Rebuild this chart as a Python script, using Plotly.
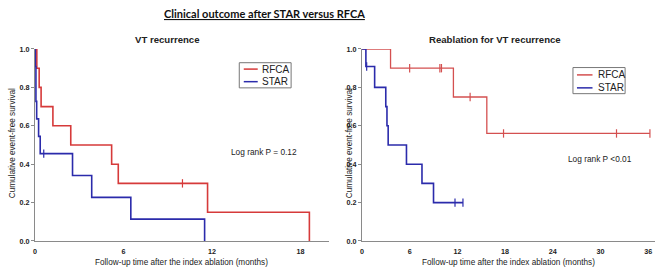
import plotly.graph_objects as go

# ---- data (months, cumulative event-free survival) ----
vt_rfca_t = [0, 0.13, 0.29, 0.42, 1.22, 2.43, 5.2, 5.65, 11.7, 18.6]
vt_rfca_s = [1.0, 0.9, 0.8, 0.7, 0.6, 0.5, 0.4, 0.3, 0.15, 0.0]
vt_rfca_cens_t = [10.0]
vt_rfca_cens_s = [0.3]

vt_star_t = [0, 0.03, 0.07, 0.12, 0.25, 0.36, 2.55, 3.85, 6.5, 11.5]
vt_star_s = [1.0, 0.909, 0.727, 0.636, 0.545, 0.455, 0.341, 0.227, 0.114, 0.0]
vt_star_cens_t = [0.6]
vt_star_cens_s = [0.455]

re_rfca_t = [0, 3.6, 11.5, 15.7, 36.2]
re_rfca_s = [1.0, 0.9, 0.75, 0.56, 0.56]
re_rfca_cens_t = [6.0, 9.8, 10.0, 13.6, 17.8, 32.0, 36.2]
re_rfca_cens_s = [0.9, 0.9, 0.9, 0.75, 0.56, 0.56, 0.56]

re_star_t = [0, 0.5, 1.6, 3.0, 3.15, 3.3, 5.6, 7.55, 9.0, 12.7]
re_star_s = [1.0, 0.909, 0.8, 0.7, 0.6, 0.5, 0.4, 0.3, 0.2, 0.2]
re_star_cens_t = [0.6, 11.7, 12.7]
re_star_cens_s = [0.909, 0.2, 0.2]

y_ticks = [0.0, 0.2, 0.4, 0.6, 0.8, 1.0]
y_tick_text = ["0.0", "0.2", "0.4", "0.6", "0.8", "1.0"]
x1_ticks = [0, 6, 12, 18]
x2_ticks = [0, 6, 12, 18, 24, 30, 36]

RED = "#d63a3a"
RED2 = "#d45050"
BLUE = "#2b2bab"
AX = "#8a8a8a"

W, H = 661, 275
def px(x):
    return x / W
def py(y):
    return 1 - y / H

fig = go.Figure()

def add_km(t, s, ct, cs, color, width, xa, ya, name):
    fig.add_trace(go.Scatter(x=t, y=s, mode="lines", line=dict(color=color, width=width, shape="hv"),
                             xaxis=xa, yaxis=ya, name=name, showlegend=False, hoverinfo="x+y"))
    fig.add_trace(go.Scatter(x=ct, y=cs, mode="markers",
                             marker=dict(symbol="line-ns", size=6, line=dict(color=color, width=1.2)),
                             xaxis=xa, yaxis=ya, name=name + " censored", showlegend=False))

add_km(vt_rfca_t, vt_rfca_s, vt_rfca_cens_t, vt_rfca_cens_s, RED, 1.6, "x", "y", "RFCA")
add_km(vt_star_t, vt_star_s, vt_star_cens_t, vt_star_cens_s, BLUE, 1.6, "x", "y", "STAR")
add_km(re_rfca_t, re_rfca_s, re_rfca_cens_t, re_rfca_cens_s, RED2, 1.3, "x2", "y2", "RFCA")
add_km(re_star_t, re_star_s, re_star_cens_t, re_star_cens_s, BLUE, 1.6, "x2", "y2", "STAR")

tickfont = dict(family="Arial, Liberation Sans", size=7.2, color="#222")
common_x = dict(showgrid=False, zeroline=False, showline=True, linecolor=AX, linewidth=1,
                ticks="", tickfont=tickfont, ticklabelstandoff=3, fixedrange=True)
common_y = dict(showgrid=False, zeroline=False, showline=True, linecolor=AX, linewidth=1,
                ticks="outside", ticklen=3, tickcolor=AX, tickfont=tickfont,
                tickvals=y_ticks, ticktext=[f"<b>{v}</b>" for v in y_tick_text], range=[0, 1.0])

ydom = [py(245), py(46.5)]
fig.update_layout(
    width=W, height=H, margin=dict(l=0, r=0, t=0, b=0),
    paper_bgcolor="white", plot_bgcolor="white",
    xaxis=dict(domain=[px(33), px(328)], range=[0, 19.93], tickvals=x1_ticks,
               ticktext=[f"<b>{v}</b>" for v in x1_ticks], anchor="y", **common_x),
    yaxis=dict(domain=ydom, anchor="x", **common_y),
    xaxis2=dict(domain=[px(361), px(655)], range=[0, 36.84], tickvals=x2_ticks,
                ticktext=[f"<b>{v}</b>" for v in x2_ticks], anchor="y2", **common_x),
    yaxis2=dict(domain=ydom, anchor="x2", **common_y),
    showlegend=False,
)

txt = dict(family="Arial, Liberation Sans", color="#222")
ann = []
def add_text(text, x, y, size, xanchor="center", angle=0, font=None):
    f = dict(size=size, **(font or txt))
    ann.append(dict(text=text, x=px(x), y=py(y), xref="paper", yref="paper", showarrow=False,
                    xanchor=xanchor, yanchor="middle", textangle=angle, font=f))

add_text('<span style="text-decoration:underline"><b>Clinical outcome after STAR versus RFCA</b></span>',
         263, 10, 11, font=dict(family="Lato, Open Sans", color="#111"))
add_text("<b>VT recurrence</b>", 166, 37, 9.6)
add_text("<b>Reablation for VT recurrence</b>", 494.5, 37, 9.6)
for cx in (180.5, 508):
    add_text("Follow-up time after the index ablation (months)", cx, 267, 8.2)
for cx in (10, 348):
    add_text("Cumulative event-free survival", cx, 144, 8.2, angle=-90)
add_text("Log rank P = 0.12", 227.5, 153, 8.3, xanchor="left")
add_text("Log rank P <0.01", 565.5, 160, 8.3, xanchor="left")

shapes = []
legends = [
    dict(box=(238, 60.7, 290, 86.7), lx=(242.5, 256.5), ty=(67.3, 80.3), tx=259, red=RED),
    dict(box=(572.7, 65.7, 625, 92.7), lx=(576.7, 592.3), ty=(73.3, 86.7), tx=595.5, red=RED2),
]
for lg in legends:
    x0, y0, x1, y1 = lg["box"]
    shapes.append(dict(type="rect", xref="paper", yref="paper", x0=px(x0), x1=px(x1), y0=py(y1), y1=py(y0),
                       line=dict(color="#777", width=1), fillcolor="white", layer="below"))
    for yy, col, lab in zip(lg["ty"], (lg["red"], BLUE), ("RFCA", "STAR")):
        shapes.append(dict(type="line", xref="paper", yref="paper", x0=px(lg["lx"][0]), x1=px(lg["lx"][1]),
                           y0=py(yy), y1=py(yy), line=dict(color=col, width=1.5)))
        add_text(lab, lg["tx"], yy, 10, xanchor="left")

fig.update_layout(annotations=ann, shapes=shapes)
fig.write_html("out.html")
